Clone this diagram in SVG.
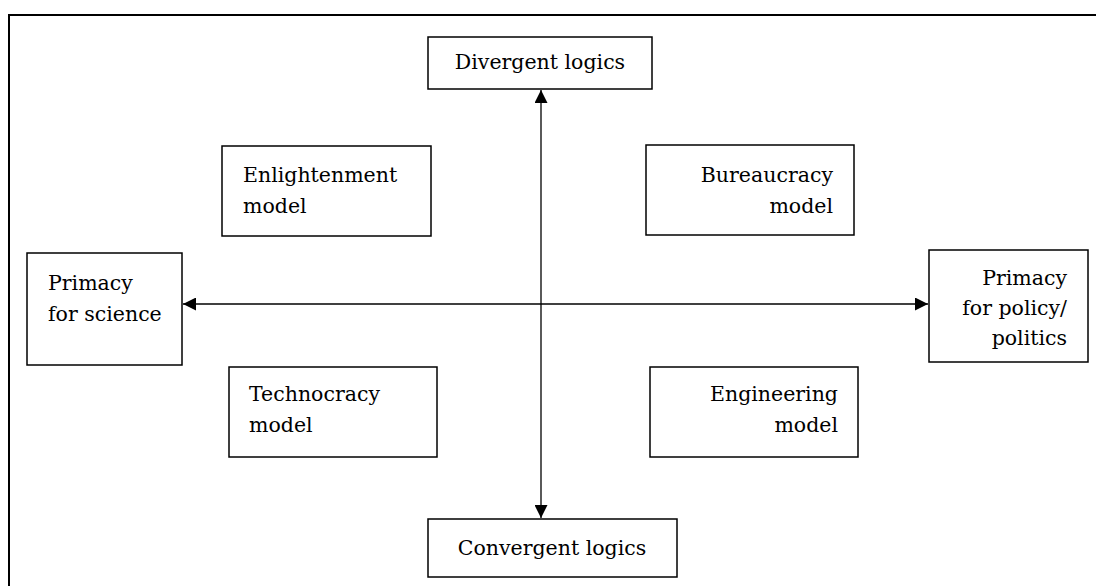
<svg xmlns="http://www.w3.org/2000/svg" width="1096" height="586" viewBox="0 0 1096 586">
<defs>
<marker id="ah" viewBox="0 0 10 10" refX="10" refY="5" markerWidth="13" markerHeight="13" markerUnits="userSpaceOnUse" orient="auto-start-reverse">
<path d="M0,0 L10,5 L0,10 z" fill="#000"/>
</marker>
<style>
.box{fill:#fff;stroke:#000;stroke-width:1.5}
.t{font-family:"DejaVu Serif","Liberation Serif",serif;font-size:20.5px;fill:#000}
.c{text-anchor:middle}
.r{text-anchor:end}
.ln{stroke:#000;stroke-width:1.3;fill:none}
</style>
</defs>
<rect width="1096" height="586" fill="#fff"/>
<path d="M9,586 V15 H1096" fill="none" stroke="#000" stroke-width="2"/>
<g id="connectors">
<line class="ln" x1="541" y1="90" x2="541" y2="518" marker-start="url(#ah)" marker-end="url(#ah)"/>
<line class="ln" x1="183" y1="304" x2="928" y2="304" marker-start="url(#ah)" marker-end="url(#ah)"/>
</g>
<g id="divergent"><rect class="box" x="428" y="37" width="224" height="52"/><text class="t c" x="540" y="69">Divergent logics</text></g>
<g id="convergent"><rect class="box" x="428" y="519" width="249" height="58"/><text class="t c" x="552" y="555">Convergent logics</text></g>
<g id="science"><rect class="box" x="27" y="253" width="155" height="112"/><text class="t" x="48" y="290">Primacy</text><text class="t" x="48" y="321">for science</text></g>
<g id="policy"><rect class="box" x="929" y="250" width="159" height="112"/><text class="t r" x="1067" y="285">Primacy</text><text class="t r" x="1067" y="315">for policy/</text><text class="t r" x="1067" y="345">politics</text></g>
<g id="enlightenment"><rect class="box" x="222" y="146" width="209" height="90"/><text class="t" x="243" y="182">Enlightenment</text><text class="t" x="243" y="213">model</text></g>
<g id="bureaucracy"><rect class="box" x="646" y="145" width="208" height="90"/><text class="t r" x="833" y="182">Bureaucracy</text><text class="t r" x="833" y="213">model</text></g>
<g id="technocracy"><rect class="box" x="229" y="367" width="208" height="90"/><text class="t" x="249" y="401">Technocracy</text><text class="t" x="249" y="432">model</text></g>
<g id="engineering"><rect class="box" x="650" y="367" width="208" height="90"/><text class="t r" x="838" y="401">Engineering</text><text class="t r" x="838" y="432">model</text></g>
</svg>
